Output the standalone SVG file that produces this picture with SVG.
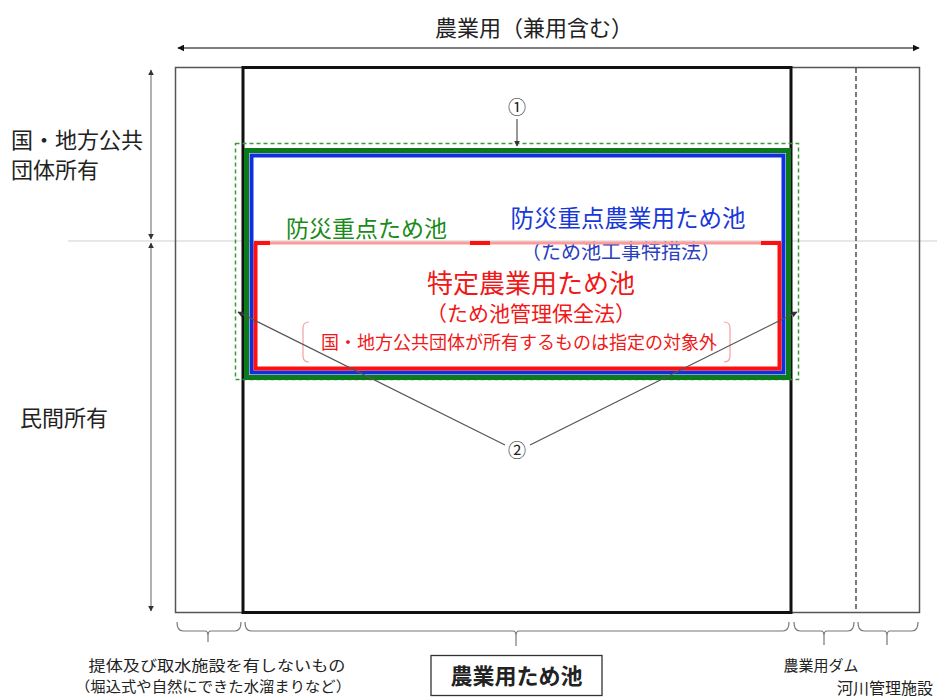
<svg xmlns="http://www.w3.org/2000/svg" width="937" height="699" viewBox="0 0 937 699">
<defs>
<style>
text{font-family:"Noto Sans CJK JP","Noto Sans",sans-serif;}
.lbl{fill:#222;}
.thin{fill:none;stroke:#555;stroke-width:1.5;}
.brace{fill:none;stroke:#777;stroke-width:1.2;}
.conn{stroke:#555;stroke-width:1.2;fill:none;}
</style>
<marker id="ah" viewBox="0 0 10 10" refX="9" refY="5" markerWidth="7" markerHeight="7" orient="auto-start-reverse" markerUnits="userSpaceOnUse">
<path d="M0,0 L10,5 L0,10 z" fill="#111"/>
</marker>
<marker id="ahs" viewBox="0 0 10 10" refX="9" refY="5" markerWidth="6" markerHeight="6" orient="auto-start-reverse" markerUnits="userSpaceOnUse">
<path d="M0,0 L10,5 L0,10 z" fill="#333"/>
</marker>
</defs>
<rect width="937" height="699" fill="#fff"/>

<g id="frame">
<line x1="68" y1="241" x2="937" y2="241" stroke="#d0d0d0" stroke-width="1.2"/>
<rect class="thin" x="175.5" y="67.5" width="744" height="545"/>
<line x1="856" y1="68" x2="856" y2="612" stroke="#333" stroke-width="1.3" stroke-dasharray="5,3"/>
<rect x="243" y="67.5" width="548" height="545" fill="none" stroke="#111" stroke-width="3"/>
</g>

<g id="dimensions">
<line x1="178" y1="48" x2="919" y2="48" stroke="#555" stroke-width="1.3" marker-start="url(#ah)" marker-end="url(#ah)"/>
<text x="534" y="36" font-size="22" text-anchor="middle" class="lbl">農業用（兼用含む）</text>
<line x1="151" y1="70" x2="151" y2="239" stroke="#888" stroke-width="1.3" marker-start="url(#ahs)" marker-end="url(#ahs)"/>
<line x1="151" y1="243" x2="151" y2="611" stroke="#888" stroke-width="1.3" marker-start="url(#ahs)" marker-end="url(#ahs)"/>
<text x="11" y="148" font-size="22" class="lbl">国・地方公共</text>
<text x="11" y="178" font-size="22" class="lbl">団体所有</text>
<text x="20" y="426" font-size="22" class="lbl">民間所有</text>
</g>

<g id="bousai-juten">
<rect x="235.5" y="143.5" width="563" height="236" fill="none" stroke="#3a9a3a" stroke-width="1.5" stroke-dasharray="4,3"/>
<rect x="246.5" y="150.5" width="542" height="227" fill="none" stroke="#0a7a1a" stroke-width="5"/>
<text x="286" y="237" font-size="23" fill="#1a8a1a">防災重点ため池</text>
</g>

<g id="bousai-juten-nougyou">
<rect x="251.5" y="155.5" width="532" height="217" fill="none" stroke="#1030e0" stroke-width="4"/>
<text x="628" y="227" font-size="23.5" text-anchor="middle" fill="#1838d8">防災重点農業用ため池</text>
<text x="621" y="259" font-size="20" text-anchor="middle" fill="#2a40c0">（ため池工事特措法）</text>
</g>

<g id="tokutei">
<path d="M255.5,243 V368.5 H779.5 V243" fill="none" stroke="#ff1010" stroke-width="4"/>
<line x1="255.5" y1="243" x2="779.5" y2="243" stroke="#ff9a9a" stroke-width="3"/>
<line x1="254" y1="243" x2="270" y2="243" stroke="#ff1010" stroke-width="4"/>
<line x1="470" y1="243" x2="490" y2="243" stroke="#ff1010" stroke-width="4"/>
<line x1="761" y1="243" x2="781" y2="243" stroke="#ff1010" stroke-width="4"/>
<text x="531" y="293" font-size="26" text-anchor="middle" fill="#f01818">特定農業用ため池</text>
<text x="531" y="321" font-size="21" text-anchor="middle" fill="#f01818">（ため池管理保全法）</text>
<path d="M309,322 Q303,322 303,328 V356 Q303,362 309,362" fill="none" stroke="#f4a0a0" stroke-width="1.2"/>
<path d="M724,322 Q730,322 730,328 V356 Q730,362 724,362" fill="none" stroke="#f4a0a0" stroke-width="1.2"/>
<text x="519" y="349" font-size="18" text-anchor="middle" fill="#f01818">国・地方公共団体が所有するものは指定の対象外</text>
</g>

<g id="marker-1">
<text x="517" y="114" font-size="18" text-anchor="middle" class="lbl">①</text>
</g>

<g id="marker-2">
<text x="517" y="457" font-size="18" text-anchor="middle" class="lbl">②</text>
</g>

<g id="connectors">
<line class="conn" x1="517" y1="119" x2="517" y2="146" marker-end="url(#ahs)"/>
<line class="conn" x1="505" y1="445" x2="238" y2="312" marker-end="url(#ahs)"/>
<line class="conn" x1="530" y1="445" x2="797" y2="312" marker-end="url(#ahs)"/>
</g>

<g id="bottom-braces">
<path class="brace" d="M177,622 Q177,631 183,631 H205 Q208,631 208,636 V642 M208,636 Q208,631 211,631 H235 Q241,631 241,622"/>
<path class="brace" d="M245,622 Q245,631 251,631 H513 Q516,631 516,636 V646 M516,636 Q516,631 519,631 H783 Q789,631 789,622"/>
<path class="brace" d="M794,622 Q794,631 800,631 H821 Q824,631 824,636 V645 M824,636 Q824,631 827,631 H848 Q854,631 854,622"/>
<path class="brace" d="M858,622 Q858,631 864,631 H884 Q887,631 887,636 V645 M887,636 Q887,631 890,631 H912 Q918,631 918,622"/>
</g>

<g id="label-nonpond">
<text x="217" y="671" font-size="14.5" text-anchor="middle" class="lbl" textLength="257" lengthAdjust="spacingAndGlyphs">提体及び取水施設を有しないもの</text>
<text x="213" y="692" font-size="14.5" text-anchor="middle" class="lbl" textLength="276" lengthAdjust="spacingAndGlyphs">（堀込式や自然にできた水溜まりなど）</text>
</g>

<g id="label-pond">
<rect x="431" y="655.5" width="171" height="40" fill="#fff" stroke="#333" stroke-width="1.3"/>
<text x="516.5" y="684" font-size="22" font-weight="bold" text-anchor="middle" class="lbl">農業用ため池</text>
</g>

<g id="label-dam">
<text x="821" y="671" font-size="15" text-anchor="middle" class="lbl">農業用ダム</text>
</g>

<g id="label-river">
<text x="885" y="694" font-size="16" text-anchor="middle" class="lbl">河川管理施設</text>
</g>
</svg>
